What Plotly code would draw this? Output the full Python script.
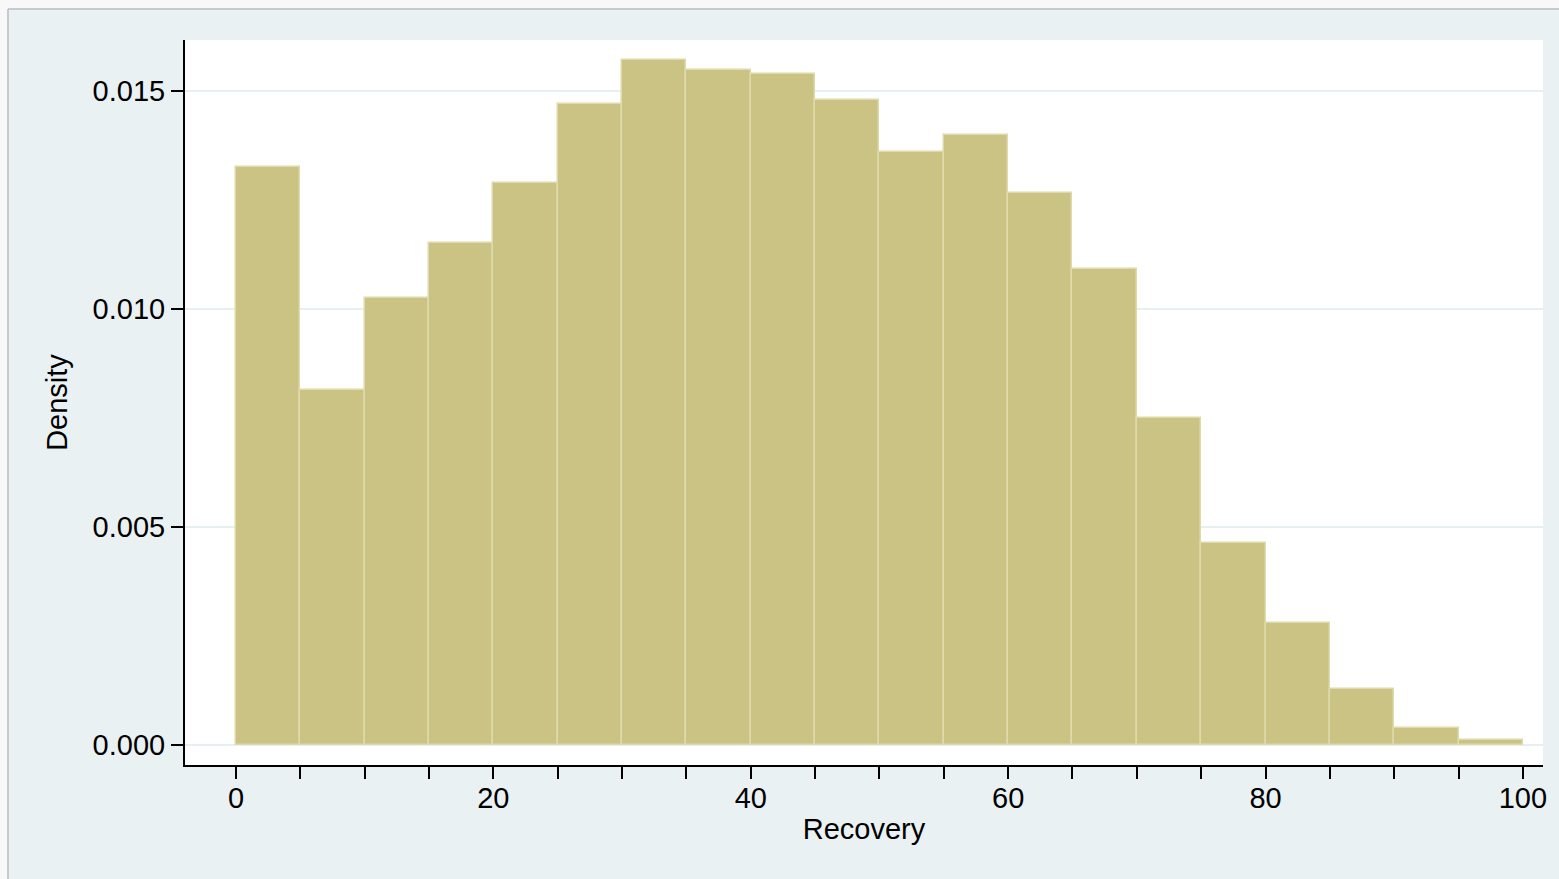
import plotly.graph_objects as go

# Data: histogram bins (width 5) of Recovery, density
bin_left = [0, 5, 10, 15, 20, 25, 30, 35, 40, 45, 50, 55, 60, 65, 70, 75, 80, 85, 90, 95]
density = [0.01326, 0.00814, 0.01025, 0.01151, 0.01289, 0.01470, 0.01571, 0.01548,
           0.01539, 0.01479, 0.01360, 0.01399, 0.01266, 0.01092, 0.00750, 0.00463,
           0.00280, 0.00128, 0.00039, 0.00012]
bin_width = 5
x_tickvals = list(range(0, 101, 5))
x_ticktext = [str(v) if v % 20 == 0 else "" for v in x_tickvals]
y_tickvals = [0.0, 0.005, 0.010, 0.015]
y_ticktext = ["0.000", "0.005", "0.010", "0.015"]

# Figure fills the whole window (body margin removed in post_script)
W, H = 1559, 879
ml, mr, mt, mb = 185, 16, 40, 114
pw, ph = W - ml - mr, H - mt - mb

centers = [b + bin_width / 2 for b in bin_left]

fig = go.Figure()
fig.add_trace(go.Bar(
    x=centers, y=density, width=[bin_width] * len(centers),
    marker=dict(color="#CBC383", line=dict(color="#DEDAAC", width=1.5)),
    showlegend=False,
))

font = "Liberation Sans, Arial, sans-serif"
fs = 29
fig.update_layout(
    width=W, height=H,
    margin=dict(l=ml, r=mr, t=mt, b=mb, pad=0),
    paper_bgcolor="#EAF1F3",
    plot_bgcolor="#FFFFFF",
    bargap=0,
    font=dict(family=font, size=fs, color="#000000"),
    xaxis=dict(
        range=[-3.96, 101.56],
        tickmode="array", tickvals=x_tickvals, ticktext=x_ticktext,
        ticks="outside", ticklen=12, tickwidth=2, tickcolor="#000000",
        showline=True, linewidth=2, linecolor="#000000",
        showgrid=False, zeroline=False,
        tickfont=dict(size=fs),
        ticklabelstandoff=-6,
        title=dict(text="Recovery", font=dict(size=fs), standoff=6),
    ),
    yaxis=dict(
        range=[-0.000459, 0.01617],
        tickmode="array", tickvals=y_tickvals, ticktext=y_ticktext,
        ticks="outside", ticklen=12, tickwidth=2, tickcolor="#000000",
        showline=True, linewidth=2, linecolor="#000000",
        showgrid=True, gridcolor="#E6EFF1", gridwidth=2,
        zeroline=False,
        tickfont=dict(size=fs),
        title=dict(text="Density", font=dict(size=fs), standoff=16),
    ),
)

# Light outer strips with a gray frame line along the top and left edges
def px_x(p):
    return (p - ml) / pw

def px_y(p):
    return (H - mb - p) / ph

fig.add_shape(type="rect", xref="paper", yref="paper", layer="above",
              x0=px_x(-2), x1=px_x(W + 2), y0=px_y(9), y1=px_y(-2),
              fillcolor="#F8F8F8", line=dict(width=0))
fig.add_shape(type="rect", xref="paper", yref="paper", layer="above",
              x0=px_x(-2), x1=px_x(8), y0=px_y(H + 2), y1=px_y(-2),
              fillcolor="#F8F8F8", line=dict(width=0))
fig.add_shape(type="line", xref="paper", yref="paper", layer="above",
              x0=px_x(8), x1=px_x(W + 2), y0=px_y(9), y1=px_y(9),
              line=dict(color="#B8BCBC", width=1.5))
fig.add_shape(type="line", xref="paper", yref="paper", layer="above",
              x0=px_x(8), x1=px_x(8), y0=px_y(9), y1=px_y(H + 2),
              line=dict(color="#B8BCBC", width=1.5))

fig.write_html(
    "out.html",
    config={"displayModeBar": False},
    post_script=(
        "document.body.style.margin='0';"
        "document.body.style.backgroundColor='#EAF1F3';"
        "document.body.style.overflow='hidden';"
        "document.documentElement.style.overflow='hidden';"
    ),
)
